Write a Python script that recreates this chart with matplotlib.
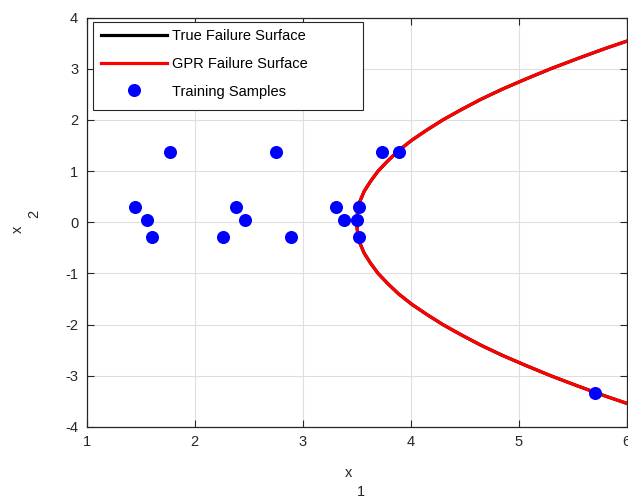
import numpy as np, matplotlib; matplotlib.use("Agg")
import matplotlib.pyplot as plt
from matplotlib.patches import Rectangle

plt.rcParams['font.family'] = ['Liberation Sans', 'DejaVu Sans']
plt.rcParams['axes.unicode_minus'] = False

# failure surface (x1 for each x2)
surf_x2 = [-3.6,-3.4,-3.2,-3.0,-2.8,-2.6,-2.4,-2.2,-2.0,-1.8,-1.6,-1.4,-1.2,-1.0,-0.8,-0.6,-0.4,-0.2,0.0,
           0.2,0.4,0.6,0.8,1.0,1.2,1.4,1.6,1.8,2.0,2.2,2.4,2.6,2.8,3.0,3.2,3.4,3.6]
true_x1 = [6.09,5.81,5.55,5.30,5.07,4.85,4.65,4.47,4.30,4.15,4.01,3.89,3.79,3.70,3.63,3.57,3.53,3.51,3.50,
           3.51,3.53,3.57,3.63,3.70,3.79,3.89,4.01,4.15,4.30,4.47,4.65,4.85,5.07,5.30,5.55,5.81,6.09]
gpr_x1 = list(true_x1)

# training samples
samp_x1 = [1.45,1.56,1.61,1.77,2.26,2.38,2.47,2.75,2.89,3.31,3.38,3.50,3.52,3.52,3.74,3.89,5.71]
samp_x2 = [0.30,0.04,-0.28,1.38,-0.28,0.30,0.04,1.38,-0.28,0.30,0.04,0.04,0.30,-0.28,1.38,1.38,-3.34]

xticks = [1,2,3,4,5,6]
yticks = [-4,-3,-2,-1,0,1,2,3,4]

K = '#262626'
fig = plt.figure(figsize=(6.28,5.01), dpi=100)
ax = fig.add_axes([86.5/628, 1-427/501, 540/628, 409.5/501])

ax.plot(true_x1, surf_x2, color='black', lw=2.3, label='True Failure Surface', zorder=3)
ax.plot(gpr_x1, surf_x2, color='#ff0000', lw=2.3, label='GPR Failure Surface', zorder=3)
ax.plot(samp_x1, samp_x2, 'o', color='#0000ff', ms=9.4, mec='none', ls='none', label='Training Samples', zorder=4)

ax.set_xlim(1,6); ax.set_ylim(-4,4)
ax.set_xticks(xticks); ax.set_yticks(yticks)
ax.grid(True, color='#dedede', lw=0.8, zorder=0)
ax.set_axisbelow(True)
ax.tick_params(direction='in', length=5, width=0.8, colors=K, labelcolor=K, labelsize=10.5,
               top=True, right=True, pad=6)
for s in ax.spines.values(): s.set_color(K); s.set_linewidth(0.9)

ax.add_patch(Rectangle((6.3/540, (427-110)/409.5), 270/540, 88/409.5, transform=ax.transAxes,
                       facecolor='white', edgecolor=K, lw=0.8, zorder=6))
leg = ax.legend(loc='upper left', bbox_to_anchor=(10/540, 1-7/409.5), frameon=False,
                fontsize=10.5, handlelength=4.5, handletextpad=0.35, labelspacing=0.95,
                borderpad=0.3, borderaxespad=0)
leg.set_zorder(7)

fig.text(349/628, 1-473/501, 'x', ha='center', va='center', fontsize=10.5, color=K)
fig.text(361/628, 1-492/501, '1', ha='center', va='center', fontsize=10.5, color=K)
fig.text(18/628, 1-229/501, 'x', ha='center', va='center', fontsize=10.5, color=K, rotation=90)
fig.text(34/628, 1-214/501, '2', ha='center', va='center', fontsize=10.5, color=K, rotation=90)

fig.savefig("out.png", dpi=100)
